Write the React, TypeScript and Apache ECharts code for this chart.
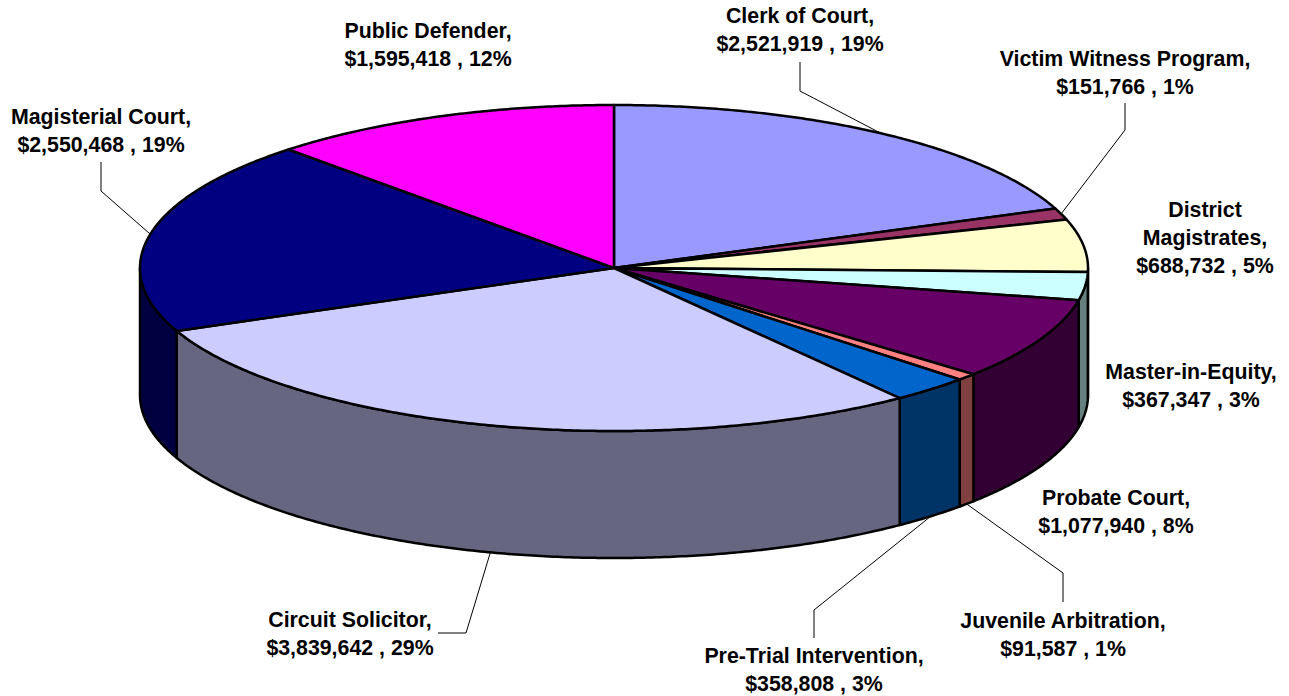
import React, { useEffect, useRef } from "react";
import * as echarts from "echarts";

const NAMES = [
  "Clerk of Court,",
  "Victim Witness Program,",
  "District\nMagistrates,",
  "Master-in-Equity,",
  "Probate Court,",
  "Juvenile Arbitration,",
  "Pre-Trial Intervention,",
  "Circuit Solicitor,",
  "Magisterial Court,",
  "Public Defender,",
];
const VALUES = [2521919, 151766, 688732, 367347, 1077940, 91587, 358808, 3839642, 2550468, 1595418];
const TOP_COLORS = ["#9999FF", "#993366", "#FFFFCC", "#CCFFFF", "#660066", "#FF8080", "#0066CC", "#CCCCFF", "#000080", "#FF00FF"];
const SIDE_COLORS = ["#4D4D80", "#4D1A33", "#808066", "#668080", "#330033", "#804040", "#003366", "#666680", "#000040", "#800080"];

// Layout of the label block (centre x, first line middle y) for each slice
const LABEL_X = [800, 1125, 1205, 1191, 1116, 1063, 814, 350, 101, 428];
const LABEL_Y = [16, 59, 210, 372, 498, 621, 656, 620, 117, 31];
// Leader lines: [start point, elbow point]; the end point comes from the slice's mid angle
const LEADERS: Record<number, number[][]> = {
  0: [[800, 62], [800, 91]],
  1: [[1125, 103], [1125, 130]],
  5: [[1063, 602], [1063, 573]],
  6: [[814, 638], [814, 610]],
  7: [[438, 633], [466, 633]],
  8: [[101, 162], [101, 191]],
};

const CX = 614;
const CY = 268;
const RX = 474;
const RY = 163;
const DEPTH = 127;
const FONT = '"Liberation Sans", Arial, sans-serif';

const total = VALUES.reduce((a, b) => a + b, 0);
const bounds: number[][] = [];
{
  let c = 0;
  VALUES.forEach((v) => {
    const s = (c / total) * 360;
    c += v;
    bounds.push([s, (c / total) * 360]);
  });
}
const rim = (deg: number, dy = 0) => {
  const t = (deg * Math.PI) / 180;
  return [CX + RX * Math.sin(t), CY - RY * Math.cos(t) + dy];
};
const arcPts = (a: number, b: number, dy = 0) => {
  const pts: number[][] = [];
  const n = Math.max(2, Math.ceil((b - a) / 0.5));
  for (let i = 0; i <= n; i++) pts.push(rim(a + ((b - a) * i) / n, dy));
  return pts;
};

const money = (v: number) => "$" + v.toLocaleString("en-US");

export default function App() {
  const ref = useRef<HTMLDivElement>(null);
  useEffect(() => {
    const chart = echarts.init(ref.current!, undefined, { renderer: "svg" });
    const graphics: any[] = [];
    NAMES.forEach((name, i) => {
      const pct = Math.round((VALUES[i] / total) * 100);
      graphics.push({
        type: "text",
        x: LABEL_X[i],
        y: LABEL_Y[i] - 14,
        style: {
          text: `${name}\n${money(VALUES[i])} , ${pct}%`,
          font: `bold 21.33px ${FONT}`,
          fill: "#000",
          align: "center",
          verticalAlign: "top",
          lineHeight: 28,
        },
      });
      const leader = LEADERS[i];
      if (leader) {
        const mid = (bounds[i][0] + bounds[i][1]) / 2;
        const inFront = mid > 90 && mid < 270;
        graphics.push({
          type: "polyline",
          shape: { points: [...leader, rim(mid, inFront ? DEPTH : 0)] },
          style: { stroke: "#000", lineWidth: 1, fill: "none" },
        });
      }
    });
    chart.setOption({
      animation: false,
      backgroundColor: "#fff",
      graphic: graphics,
      series: [
        {
          type: "custom",
          coordinateSystem: "none",
          silent: true,
          z: 1,
          data: VALUES.map((v) => [v]),
          renderItem: (p: any) => {
            const [a, b] = bounds[p.dataIndex];
            const s = Math.max(a, 90);
            const e = Math.min(b, 270);
            if (e <= s) return { type: "group", children: [] };
            const points = [...arcPts(s, e), ...arcPts(s, e, DEPTH).reverse()];
            return {
              type: "polygon",
              shape: { points },
              style: { fill: SIDE_COLORS[p.dataIndex], stroke: "#000", lineWidth: 2.5, lineJoin: "round" },
            };
          },
        },
        {
          type: "custom",
          coordinateSystem: "none",
          silent: true,
          z: 2,
          data: VALUES.map((v) => [v]),
          renderItem: (p: any) => {
            const [a, b] = bounds[p.dataIndex];
            return {
              type: "polygon",
              shape: { points: [[CX, CY], ...arcPts(a, b)] },
              style: { fill: TOP_COLORS[p.dataIndex], stroke: "#000", lineWidth: 2.5, lineJoin: "round" },
            };
          },
        },
      ],
    });
    return () => chart.dispose();
  }, []);
  return <div ref={ref} style={{ position: "fixed", left: 0, top: 0, width: 1289, height: 696 }} />;
}
